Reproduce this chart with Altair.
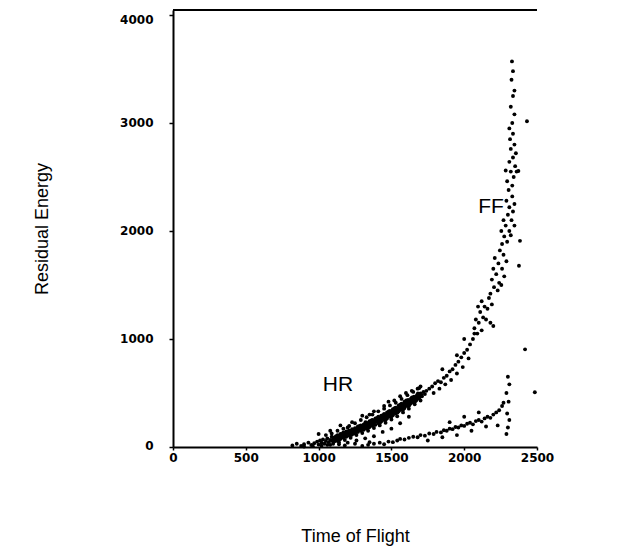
import altair as alt
import pandas as pd

# ---- data (time of flight, residual energy) ----
hr_band = [
    (820, 15), (850, 30), (880, 10), (900, 25), (930, 40), (950, 18), (970, 35), (990, 50),
    (1000, 22), (1010, 60), (1020, 40), (1030, 70), (1040, 30), (1050, 55), (1060, 80), (1070, 45),
    (1080, 65), (1090, 95), (1100, 50), (1100, 85), (1110, 70), (1120, 100), (1130, 60), (1130, 110),
    (1140, 90), (1150, 75), (1150, 120), (1160, 105), (1170, 85), (1170, 135), (1180, 115), (1190, 95),
    (1190, 145), (1200, 125), (1210, 105), (1210, 150), (1220, 135), (1230, 115), (1230, 165), (1240, 145),
    (1250, 125), (1250, 175), (1260, 155), (1270, 140), (1270, 190), (1280, 165), (1290, 150), (1290, 200),
    (1300, 180), (1310, 160), (1310, 210), (1320, 190), (1330, 170), (1330, 225), (1340, 200), (1350, 185),
    (1350, 240), (1360, 215), (1370, 195), (1370, 250), (1380, 225), (1390, 205), (1390, 265), (1400, 240),
    (1410, 220), (1410, 280), (1420, 255), (1430, 235), (1430, 290), (1440, 265), (1450, 250), (1450, 305),
    (1460, 280), (1470, 265), (1470, 320), (1480, 295), (1490, 280), (1490, 335), (1500, 310), (1510, 295),
    (1510, 350), (1520, 325), (1530, 310), (1530, 365), (1540, 340), (1550, 330), (1550, 385), (1560, 360),
    (1570, 345), (1570, 400), (1580, 375), (1590, 360), (1590, 420), (1600, 395), (1610, 380), (1615, 435),
    (1620, 410), (1630, 400), (1635, 450), (1640, 425), (1650, 415), (1655, 465), (1660, 440), (1670, 430),
    (1675, 480), (1680, 460), (1690, 450), (1700, 495), (1710, 470), (1720, 510), (1730, 490),
    (1105, 75), (1125, 80), (1145, 100), (1165, 95), (1185, 125), (1205, 130), (1225, 150), (1245, 160),
    (1265, 170), (1285, 180), (1305, 195), (1325, 205), (1345, 215), (1365, 230), (1385, 245), (1405, 255),
    (1425, 270), (1445, 285), (1465, 300), (1485, 315), (1505, 330), (1525, 345), (1545, 360), (1565, 375),
    (1585, 395), (1605, 410), (1625, 425), (1645, 440), (1665, 455), (1685, 475), (1705, 485),
    (1115, 55), (1135, 85), (1155, 95), (1175, 110), (1195, 120), (1215, 125), (1235, 140), (1255, 150),
    (1275, 160), (1295, 175), (1315, 185), (1335, 195), (1355, 205), (1375, 220), (1395, 235), (1415, 245),
    (1435, 260), (1455, 270), (1475, 285), (1495, 300), (1515, 315), (1535, 330), (1555, 345), (1575, 360),
    (1595, 380), (1615, 395), (1635, 410), (1655, 425), (1675, 445), (1695, 465),
    (1050, 110), (1090, 125), (1130, 150), (1170, 170), (1210, 195), (1250, 220), (1290, 250), (1330, 275),
    (1370, 300), (1410, 330), (1450, 355), (1490, 385), (1530, 410), (1570, 445), (1610, 480), (1650, 510),
    (1690, 545),
    (1060, 20), (1100, 30), (1140, 45), (1180, 65), (1220, 85), (1260, 110), (1300, 130), (1340, 150),
    (1380, 175), (1420, 200), (1460, 225), (1500, 255), (1540, 285), (1580, 320), (1620, 355), (1660, 395),
    (1700, 430),
    (1095, 60), (1112, 90), (1142, 70), (1162, 120), (1182, 100), (1202, 145), (1222, 110), (1242, 130),
    (1262, 140), (1282, 195), (1302, 165), (1322, 230), (1342, 180), (1362, 245), (1382, 205), (1402, 270),
    (1422, 225), (1442, 295), (1462, 255), (1482, 330), (1502, 285), (1522, 360), (1542, 320), (1562, 395),
    (1582, 350), (1602, 430), (1622, 385), (1642, 460), (1662, 420), (1682, 495),
]

hr_scatter = [
    (1000, 120), (1080, 150), (1150, 200), (1230, 230), (1300, 290), (1380, 330), (1450, 380),
    (1520, 430), (1560, 470), (1600, 500), (1480, 420), (1350, 300), (1200, 180), (1640, 520),
    (1700, 560), (1680, 540),
    (900, 5), (960, 8), (1020, 12), (1080, 20), (1140, 25), (1200, 40), (1260, 60), (1320, 80),
    (1380, 100), (1440, 140), (1500, 170), (1560, 220), (1620, 280), (1180, 15), (1250, 30), (1350, 45),
]

lower_branch = [
    (1300, 10), (1340, 20), (1380, 30), (1420, 40), (1450, 25), (1480, 50), (1510, 45), (1540, 60),
    (1560, 75), (1590, 70), (1620, 85), (1650, 95), (1680, 90), (1700, 110), (1730, 105), (1760, 125),
    (1790, 120), (1810, 140), (1840, 135), (1860, 155), (1880, 150), (1900, 170), (1920, 165), (1940, 185),
    (1960, 180), (1980, 200), (2000, 195), (2020, 215), (2040, 225), (2060, 210), (2080, 240), (2100, 250),
    (2120, 235), (2140, 265), (2160, 280), (2180, 270), (2200, 300), (2220, 320), (2240, 340), (2260, 380),
    (2270, 410),
    (1750, 60), (1850, 90), (1950, 110), (2050, 150), (2150, 190), (2230, 200), (1900, 230), (2000, 280),
    (2100, 320),
    (2290, 120), (2300, 180), (2310, 250), (2295, 310), (2305, 420), (2290, 500), (2310, 580), (2300, 650),
]

bend = [
    (1740, 520), (1760, 540), (1780, 560), (1800, 590), (1820, 610), (1840, 600), (1860, 640), (1880, 660),
    (1900, 700), (1920, 720), (1940, 760), (1960, 790), (1980, 830), (2000, 870), (2020, 900), (2040, 950),
    (2060, 1000), (2070, 1050), (1790, 500), (1830, 540), (1870, 580), (1910, 620), (1950, 680), (1990, 740),
    (2030, 820), (1850, 720), (1950, 850), (2000, 1000),
]

ff_band = [
    (2070, 1100), (2090, 1050), (2100, 1150), (2120, 1080), (2130, 1200), (2110, 1250), (2150, 1180),
    (2140, 1300), (2160, 1280), (2120, 1350), (2170, 1380), (2080, 1180), (2180, 1150), (2200, 1120),
    (2190, 1320), (2095, 1300),
    (2180, 1420), (2205, 1480), (2230, 1450), (2190, 1550), (2240, 1520), (2220, 1600), (2260, 1650),
    (2235, 1700), (2275, 1580), (2210, 1750), (2270, 1780), (2245, 1820), (2290, 1720), (2200, 1650),
    (2255, 1500),
    (2260, 1880), (2295, 1900), (2275, 1950), (2310, 2000), (2285, 2050), (2325, 2100), (2300, 2150),
    (2335, 2180), (2310, 2220), (2345, 2250), (2290, 2280), (2330, 2320), (2345, 2050), (2270, 2100),
    (2320, 1960), (2255, 2000),
    (2305, 2380), (2330, 2420), (2295, 2460), (2340, 2500), (2320, 2550), (2350, 2600), (2310, 2640),
    (2335, 2680), (2355, 2720), (2320, 2760), (2345, 2800), (2360, 2550), (2285, 2560),
    (2315, 2850), (2335, 2900), (2310, 2950), (2330, 3000), (2345, 3080), (2320, 3150), (2335, 3250),
    (2345, 3300), (2325, 3400), (2335, 3480), (2328, 3570),
]

outliers = [
    (2431, 3016), (2383, 1909), (2376, 1678), (2418, 904), (2485, 507), (2372, 2555),
]

labels = ["HR", "FF"]
label_tof = [1133, 2184]
label_energy = [574, 2222]

x_ticks = [0, 500, 1000, 1500, 2000, 2500]
y_ticks = [0, 1000, 2000, 3000, 4000]

# ---- build table ----
pts = hr_band + hr_scatter + lower_branch + bend + ff_band + outliers
df = pd.DataFrame(pts, columns=["tof", "energy"])
lab = pd.DataFrame({"label": labels, "tof": label_tof, "energy": label_energy})

W, H = 364, 437

xscale = alt.Scale(domain=[0, 2500], nice=False, zero=False)
yscale = alt.Scale(domain=[0, 4046], nice=False, zero=False)

tick_font = "DejaVu Sans"

points = alt.Chart(df).mark_circle(size=15, color="black", opacity=1).encode(
    x=alt.X("tof:Q", scale=xscale,
            axis=alt.Axis(title="Time of Flight", values=x_ticks, format="d",
                          grid=False, domainColor="black", domainWidth=2,
                          tickColor="black", tickSize=3, tickWidth=1.5,
                          labelFont=tick_font, labelFontWeight="bold", labelFontSize=12,
                          labelColor="black", labelPadding=2, labelFlush=False,
                          titleFont="Liberation Sans", titleFontSize=18,
                          titleFontWeight="normal", titleColor="black", titlePadding=64)),
    y=alt.Y("energy:Q", scale=yscale,
            axis=alt.Axis(title="Residual Energy", values=y_ticks, format="d",
                          grid=False, domainColor="black", domainWidth=2,
                          tickColor="black", tickSize=4, tickWidth=1.5,
                          labelFont=tick_font, labelFontWeight="bold", labelFontSize=12,
                          labelColor="black", labelPadding=16, labelFlush=False,
                          labelOffset={"expr": "datum.value == 4000 ? 5 : (datum.value == 0 ? -2 : 0)"},
                          titleFont="Liberation Sans", titleFontSize=18,
                          titleFontWeight="normal", titleColor="black", titlePadding=68)),
)

text = alt.Chart(lab).mark_text(font="Liberation Sans", fontSize=21, color="black",
                                 align="center", baseline="middle").encode(
    x=alt.X("tof:Q", scale=xscale),
    y=alt.Y("energy:Q", scale=yscale),
    text="label:N",
)

top_line = alt.Chart(lab).mark_rule(color="black", strokeWidth=2).encode(
    x=alt.value(0), x2=alt.value(W), y=alt.value(0)
)

chart = alt.layer(points, text, top_line).properties(
    width=W, height=H,
    autosize=alt.AutoSizeParams(type="none"),
    padding={"left": 173, "top": 10, "right": 80, "bottom": 101},
).configure(background="white", view=alt.ViewConfig(stroke=None))

chart.save("out.html", embed_options={"renderer": "svg", "actions": False})
